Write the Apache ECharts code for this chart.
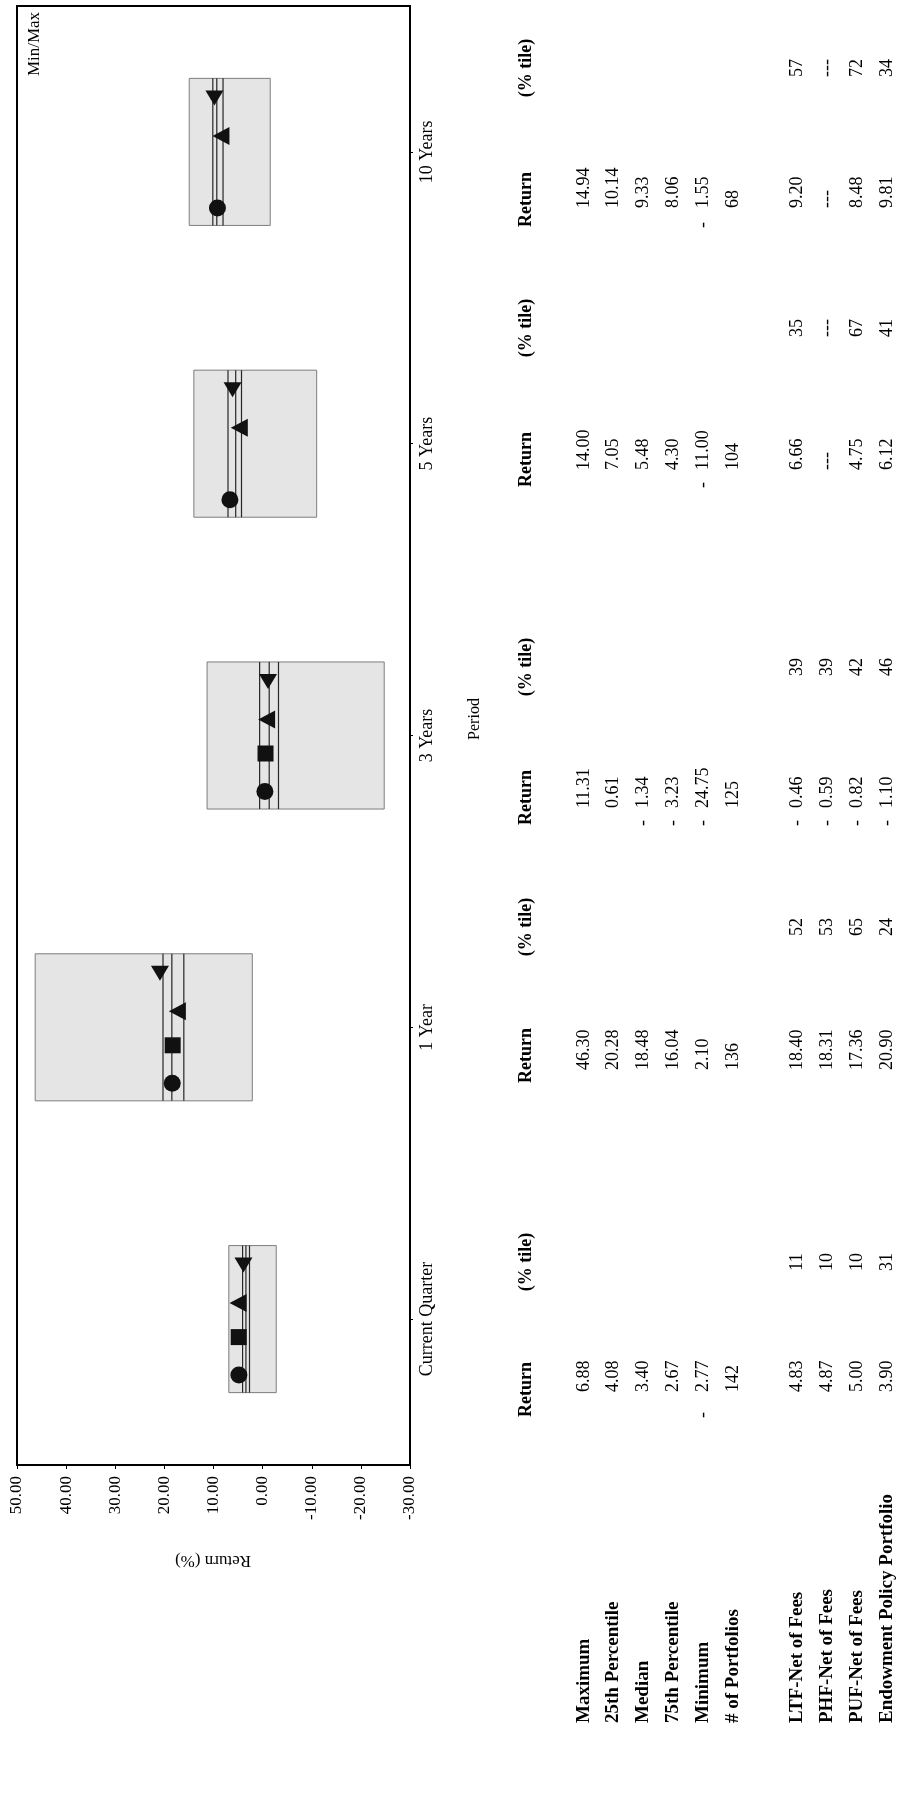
<!DOCTYPE html>
<html>
<head>
<meta charset="utf-8">
<title>Return (%) by Period</title>
<script src="https://cdn.jsdelivr.net/npm/echarts@6/dist/echarts.min.js"></script>
<style>
  html, body { margin: 0; padding: 0; background: #ffffff; }
  #chart { width: 899px; height: 1816px; }
</style>
</head>
<body>
<div id="chart"></div>
<script>
// ---- data ----
const periods = ['Current Quarter', '1 Year', '3 Years', '5 Years', '10 Years'];

// universe distribution (Min/Max range with quartile lines)
const universeMax    = [6.88, 46.30, 11.31, 14.00, 14.94];
const universeP25    = [4.08, 20.28, 0.61, 7.05, 10.14];
const universeMedian = [3.40, 18.48, -1.34, 5.48, 9.33];
const universeP75    = [2.67, 16.04, -3.23, 4.30, 8.06];
const universeMin    = [-2.77, 2.10, -24.75, -11.00, -1.55];
const portfolioCount = [142, 136, 125, 104, 68];

// portfolios: returns and percentile ranks (null = no history)
const ltfReturn   = [4.83, 18.40, -0.46, 6.66, 9.20];
const ltfRank     = [11, 52, 39, 35, 57];
const phfReturn   = [4.87, 18.31, -0.59, null, null];
const phfRank     = [10, 53, 39, null, null];
const pufReturn   = [5.00, 17.36, -0.82, 4.75, 8.48];
const pufRank     = [10, 65, 42, 67, 72];
const endowReturn = [3.90, 20.90, -1.10, 6.12, 9.81];
const endowRank   = [31, 24, 46, 41, 34];

const statLabels = ['Maximum', '25th Percentile', 'Median', '75th Percentile', 'Minimum', '# of Portfolios'];
const fundLabels = ['LTF-Net of Fees', 'PHF-Net of Fees', 'PUF-Net of Fees', 'Endowment Policy Portfolio'];

// value axis range
const axisMin = -30, axisMax = 50, axisStep = 10;

// ---- layout ----
const SERIF = '"Liberation Serif", "Times New Roman", serif';
const rowX = {
  header: 526,
  stats: [584, 613, 643, 673, 703, 733],
  funds: [797, 827, 857, 887]
};
const labelStartY = 1723;                          // row captions begin here (text runs upward)
const returnStartY = [1392, 1070, 808, 470, 208];   // return figures begin here
const returnHeadY  = [1417, 1083, 825, 487, 227];   // "Return" caption start
const minusY       = [1415, 1083, 823, 485, 225];   // sign column
const rankCenterY  = [1262, 927, 667, 328, 68];     // "(% tile)" column centre

function vtext(str, x, y, align, size, bold) {
  return {
    type: 'text', x: x, y: y, rotation: Math.PI / 2, silent: true,
    style: {
      text: str, fill: '#000', align: align, verticalAlign: 'middle',
      fontFamily: SERIF, fontSize: size, fontWeight: bold ? 'bold' : 'normal'
    }
  };
}

function returnCell(v, x, i, out) {
  if (v === null || v === undefined) {
    out.push(vtext('---', x, returnStartY[i], 'left', 18, false));
    return;
  }
  if (v < 0) out.push(vtext('-', x, minusY[i], 'center', 18, false));
  out.push(vtext(Math.abs(v).toFixed(2), x, returnStartY[i], 'left', 18, false));
}

function rankCell(r, x, i, out) {
  out.push(vtext(r === null || r === undefined ? '---' : String(r), x, rankCenterY[i], 'center', 18, false));
}

const graphics = [];
// titles around the plot
graphics.push(vtext('Min/Max', 35, 44, 'center', 17, false));
graphics.push(vtext('Period', 475, 719, 'center', 16, false));
graphics.push({
  type: 'text', x: 213, y: 1560, rotation: Math.PI, silent: true,
  style: { text: 'Return (%)', fill: '#000', align: 'center', verticalAlign: 'middle',
           fontFamily: SERIF, fontSize: 17 }
});

// table captions
periods.forEach(function (p, i) {
  graphics.push(vtext('Return', rowX.header, returnHeadY[i], 'left', 18, true));
  graphics.push(vtext('(% tile)', rowX.header, rankCenterY[i], 'center', 18, true));
});
statLabels.forEach(function (t, r) { graphics.push(vtext(t, rowX.stats[r], labelStartY, 'left', 19, true)); });
fundLabels.forEach(function (t, r) { graphics.push(vtext(t, rowX.funds[r], labelStartY, 'left', 19, true)); });

// universe statistics
const statRows = [universeMax, universeP25, universeMedian, universeP75, universeMin];
statRows.forEach(function (row, r) {
  row.forEach(function (v, i) { returnCell(v, rowX.stats[r], i, graphics); });
});
portfolioCount.forEach(function (n, i) {
  graphics.push(vtext(String(n), rowX.stats[5], returnStartY[i], 'left', 18, false));
});

// portfolio rows
const fundReturns = [ltfReturn, phfReturn, pufReturn, endowReturn];
const fundRanks = [ltfRank, phfRank, pufRank, endowRank];
fundReturns.forEach(function (row, r) {
  row.forEach(function (v, i) {
    returnCell(v, rowX.funds[r], i, graphics);
    rankCell(fundRanks[r][i], rowX.funds[r], i, graphics);
  });
});

// ---- marks ----
const markers = [
  { name: 'LTF-Net of Fees', data: ltfReturn, symbol: 'circle', size: 17, rotate: 0, offset: 56 },
  { name: 'PHF-Net of Fees', data: phfReturn, symbol: 'rect', size: 16, rotate: 0, offset: 18 },
  { name: 'PUF-Net of Fees', data: pufReturn, symbol: 'triangle', size: [18, 17], rotate: 90, offset: -16 },
  { name: 'Endowment Policy Portfolio', data: endowReturn, symbol: 'triangle', size: [18, 15], rotate: 180, offset: -54 }
];

const rangeData = periods.map(function (p, i) {
  return [i, universeMax[i], universeMin[i], universeP25[i], universeMedian[i], universeP75[i]];
});

function renderRange(params, api) {
  const i = api.value(0);
  const band = api.size([0, 1])[1];
  const half = band * 0.252;
  const yc = api.coord([0, i])[1];
  const xHi = api.coord([api.value(1), i])[0];
  const xLo = api.coord([api.value(2), i])[0];
  const children = [{
    type: 'rect',
    shape: { x: xHi, y: yc - half, width: xLo - xHi, height: half * 2 },
    style: { fill: '#e5e5e5', stroke: '#7d7d7d', lineWidth: 1 }
  }];
  [3, 4, 5].forEach(function (k) {
    const x = api.coord([api.value(k), i])[0];
    children.push({
      type: 'line',
      shape: { x1: x, y1: yc - half, x2: x, y2: yc + half },
      style: { stroke: '#262626', lineWidth: 1.2 }
    });
  });
  return { type: 'group', children: children };
}

const series = [{
  type: 'custom',
  name: 'Min/Max',
  data: rangeData,
  encode: { x: [1, 2, 3, 4, 5], y: 0 },
  renderItem: renderRange,
  silent: true,
  z: 2
}].concat(markers.map(function (m) {
  return {
    type: 'scatter',
    name: m.name,
    data: m.data.map(function (v, i) { return v === null ? null : [v, i]; }).filter(Boolean),
    symbol: m.symbol,
    symbolSize: m.size,
    symbolRotate: m.rotate,
    symbolOffset: [0, m.offset],
    itemStyle: { color: '#111111', opacity: 1 },
    silent: true,
    z: 5
  };
}));

const chart = echarts.init(document.getElementById('chart'), null, { renderer: 'canvas' });
chart.setOption({
  backgroundColor: '#ffffff',
  animation: false,
  grid: {
    left: 17, top: 6, width: 393, height: 1459,
    show: true, borderColor: '#000', borderWidth: 2, backgroundColor: 'transparent',
    outerBoundsMode: 'none'
  },
  xAxis: {
    type: 'value', min: axisMin, max: axisMax, interval: axisStep, inverse: true,
    position: 'bottom',
    axisLine: { show: true, onZero: false, lineStyle: { color: '#000', width: 2 } },
    axisTick: { show: true, length: 4, lineStyle: { color: '#000', width: 1 } },
    splitLine: { show: false },
    axisLabel: {
      rotate: 90, margin: 11, color: '#000', fontFamily: SERIF, fontSize: 17,
      formatter: function (v) { return v.toFixed(2); }
    }
  },
  yAxis: {
    type: 'category', data: periods, position: 'right',
    axisLine: { show: true, onZero: false, lineStyle: { color: '#000', width: 2 } },
    axisTick: { show: true, alignWithLabel: true, length: 3, lineStyle: { color: '#000' } },
    splitLine: { show: false },
    axisLabel: { rotate: 90, margin: 8, color: '#000', fontFamily: SERIF, fontSize: 18 }
  },
  series: series,
  graphic: graphics
});
</script>
</body>
</html>
